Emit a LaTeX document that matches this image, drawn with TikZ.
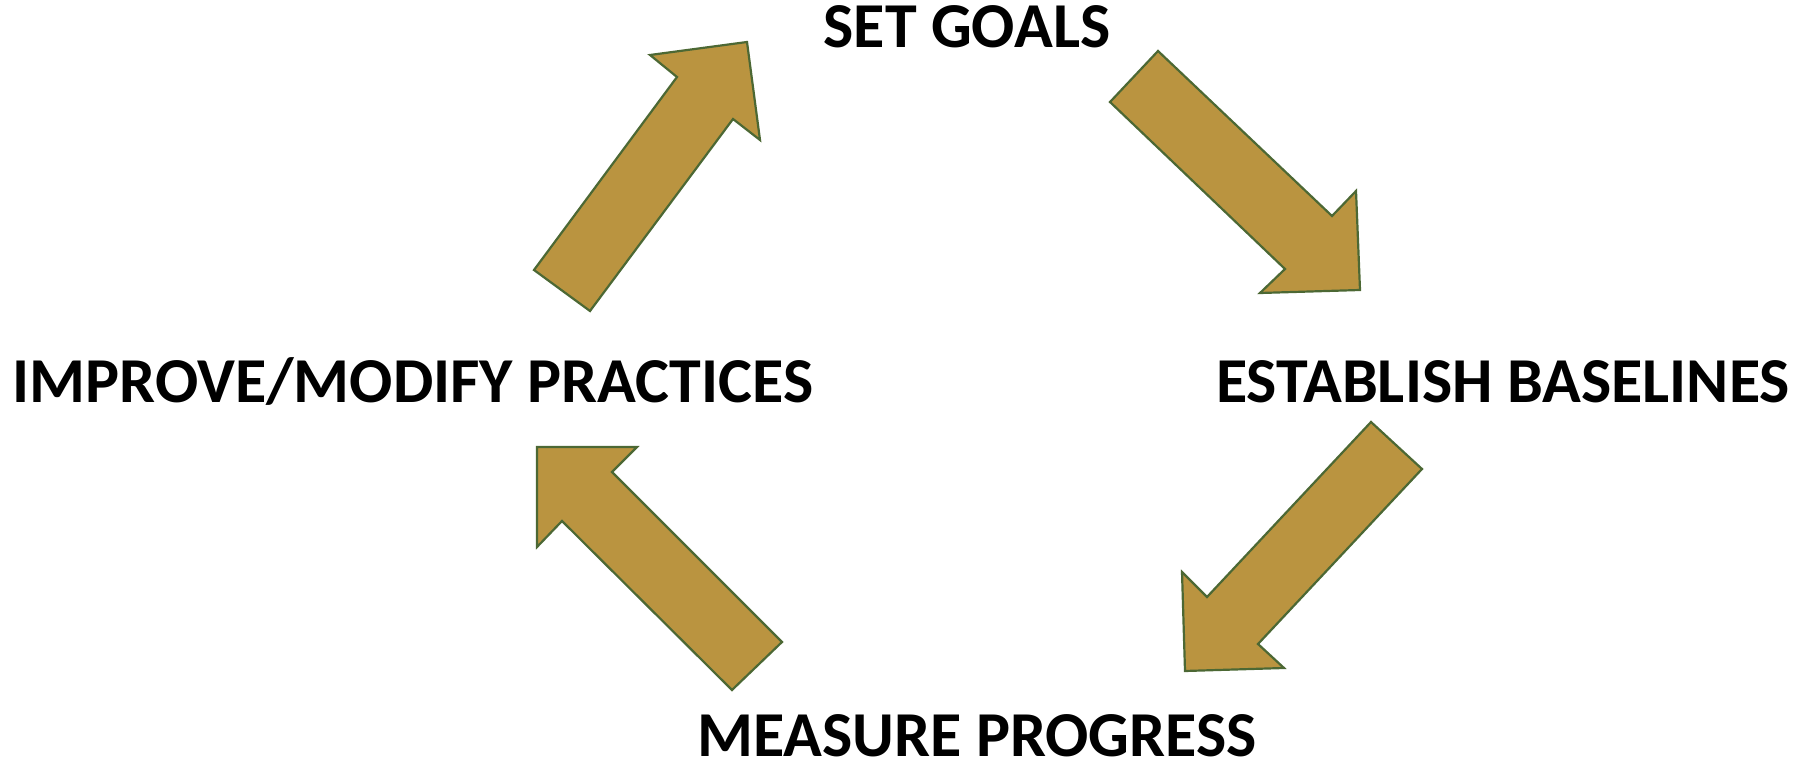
\documentclass[tikz,border=0pt]{standalone}
\usepackage{fontspec}
\setmainfont{Carlito}
\definecolor{arrowfill}{RGB}{186,148,64}
\definecolor{arrowline}{RGB}{76,104,52}
\begin{document}
\begin{tikzpicture}[x=0.5pt,y=-0.5pt,
  bigarrow/.style={fill=arrowfill,draw=arrowline,line width=1.1pt,line join=miter},
  label/.style={font=\fontsize{32}{38}\selectfont\bfseries,inner sep=0pt,anchor=base}]
\useasboundingbox (0,0) rectangle (1793,764);
% labels
\node[label] (goals) at (967,48) {SET GOALS};
\node[label] (improve) at (413,402) {IMPROVE/MODIFY PRACTICES};
\node[label] (base) at (1503,402) {ESTABLISH BASELINES};
\node[label] (measure) at (977,756) {MEASURE PROGRESS};
% arrow: improve -> set goals
\draw[bigarrow] (534,270) -- (677,77) -- (650,55) -- (747,42) -- (760,140) -- (733,119) -- (590,311) -- cycle;
% arrow: set goals -> baselines
\draw[bigarrow] (1158,51) -- (1332,216) -- (1356,191) -- (1360,290) -- (1260,293) -- (1285,269) -- (1110,102) -- cycle;
% arrow: baselines -> measure
\draw[bigarrow] (1371,422) -- (1422,469) -- (1258,644) -- (1284,668) -- (1185,671) -- (1182,572) -- (1207,597) -- cycle;
% arrow: measure -> improve
\draw[bigarrow] (732,690) -- (782,642) -- (612,472) -- (637,447) -- (537,447) -- (537,547) -- (562,521) -- cycle;
\end{tikzpicture}
\end{document}
